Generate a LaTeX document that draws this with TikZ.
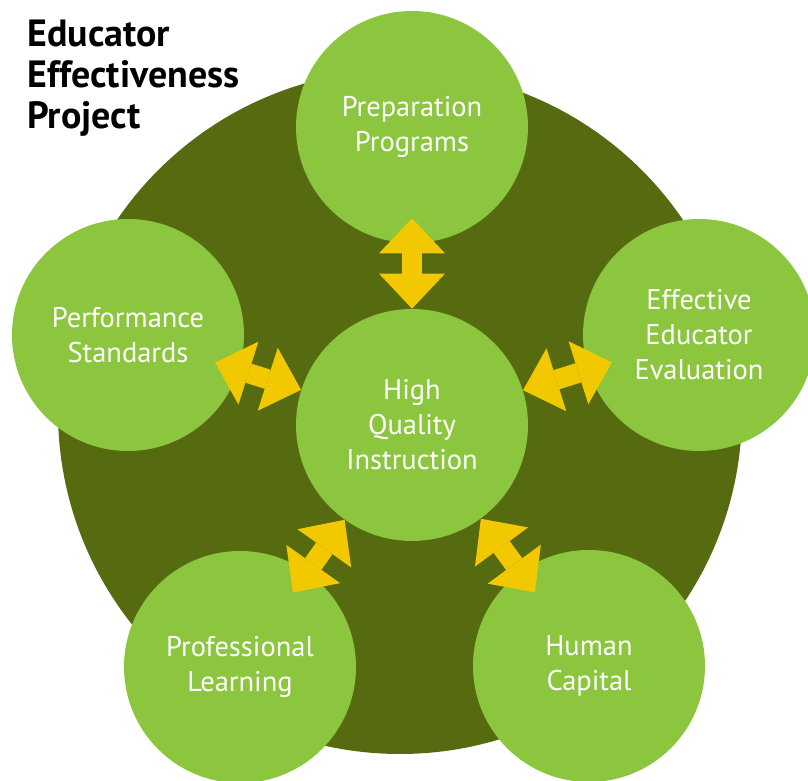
\documentclass[tikz,border=0pt]{standalone}
\usepackage{fontspec}
\setmainfont{PT Sans}
\usepackage{tikz}
\usetikzlibrary{arrows.meta}
\definecolor{leaf}{HTML}{8CC63F}
\definecolor{moss}{HTML}{566B10}
\definecolor{sun}{HTML}{F2C900}
\tikzstyle{topic} = [circle, fill=leaf, minimum size=4.64cm, inner sep=0pt, text=white, align=center, font=\fontsize{16.2}{19.9}\selectfont]
\tikzstyle{spoke} = [draw=sun, line width=0.4cm, shorten >=-0.5cm,
    {Triangle[length=0.7cm, width=1.32cm, line width=0pt]}-{Triangle[length=0.7cm, width=1.32cm, line width=0pt]}]

\begin{document}
\begin{tikzpicture}
    \useasboundingbox (0,0) rectangle (16.16,15.62);
    \clip (0,0) rectangle (16.16,15.62);

    % backdrop
    \fill[moss] (8.00,7.38) circle (6.84);

    % title
    \node[anchor=north west, inner sep=0pt, align=left, font=\fontsize{21.6}{23.2}\selectfont\bfseries] (title) at (0.54,15.22) {Educator\\Effectiveness\\Project};

    % hub
    \node[topic] (hqi) at (8.24,7.12) {High\\Quality\\Instruction};

    % outer topics
    \node[topic] (prep) at (8.24,13.08) {Preparation\\Programs};
    \node[topic] (perf) at (2.56,8.92) {Performance\\Standards};
    \node[topic] (eval) at (13.98,8.92) {Effective\\Educator\\Evaluation};
    \node[topic] (learn) at (4.80,2.28) {Professional\\Learning};
    \node[topic] (human) at (11.78,2.30) {Human\\Capital};

    % arrows
    \draw[spoke] (hqi) -- (prep);
    \draw[spoke] (hqi) -- (perf);
    \draw[spoke] (hqi) -- (eval);
    \draw[spoke] (hqi) -- (learn);
    \draw[spoke] (hqi) -- (human);
\end{tikzpicture}
\end{document}
